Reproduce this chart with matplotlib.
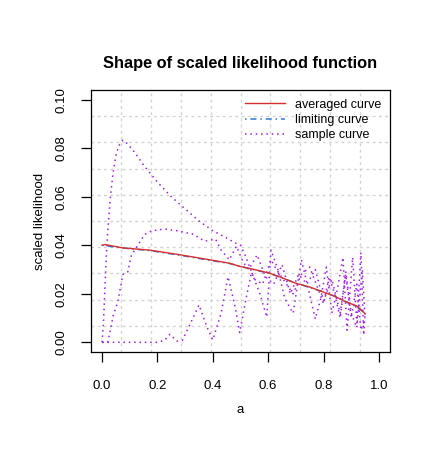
import matplotlib
matplotlib.use("Agg")
import matplotlib.pyplot as plt
import numpy as np
from matplotlib.lines import Line2D

plt.rcParams['font.family'] = ['Liberation Sans', 'DejaVu Sans']

# ---- data ----
avg_x = [0.0, 0.01, 0.075, 0.172, 0.28, 0.389, 0.46, 0.497, 0.55, 0.605, 0.65, 0.70, 0.75, 0.797, 0.84, 0.88, 0.92, 0.95]
avg_y = [0.0400, 0.0403, 0.0389, 0.0380, 0.0361, 0.0340, 0.0326, 0.0313, 0.0300, 0.0285, 0.0266, 0.0243, 0.0228, 0.0208, 0.0190, 0.0167, 0.0150, 0.0118]

lim_x = [0.0, 0.05, 0.1, 0.172, 0.28, 0.389, 0.46, 0.5, 0.55, 0.605, 0.65, 0.70, 0.75, 0.80, 0.84, 0.88, 0.92, 0.95]
lim_y = [0.0400, 0.0392, 0.0386, 0.0378, 0.0359, 0.0338, 0.0325, 0.0313, 0.0299, 0.0284, 0.0265, 0.0244, 0.0226, 0.0207, 0.0190, 0.0168, 0.0145, 0.0120]

s1_x = [0.0, 0.005, 0.01, 0.015, 0.02, 0.03, 0.04, 0.05, 0.06, 0.075, 0.09, 0.12, 0.15, 0.2, 0.25, 0.3, 0.35, 0.4, 0.45, 0.48, 0.5,
        0.52, 0.55, 0.58, 0.61, 0.63, 0.66, 0.69, 0.72, 0.75, 0.78, 0.8, 0.82, 0.84, 0.86, 0.88, 0.9, 0.92, 0.94, 0.95]
s1_y = [0.0, 0.008, 0.022, 0.035, 0.045, 0.060, 0.070, 0.077, 0.081, 0.0833, 0.082, 0.078, 0.073, 0.066, 0.060, 0.055, 0.050, 0.046, 0.043, 0.041, 0.040,
        0.035, 0.026, 0.024, 0.034, 0.030, 0.025, 0.020, 0.028, 0.031, 0.022, 0.016, 0.027, 0.020, 0.010, 0.029, 0.012, 0.006, 0.030, 0.010]

s2_x = [0.0, 0.02, 0.03, 0.04, 0.057, 0.075, 0.093, 0.106, 0.129, 0.154, 0.18, 0.226, 0.27, 0.33, 0.37, 0.41, 0.43, 0.46, 0.485,
        0.51, 0.53, 0.56, 0.59, 0.62, 0.65, 0.68, 0.71, 0.74, 0.77, 0.8, 0.83, 0.86, 0.88, 0.9, 0.92, 0.935, 0.95]
s2_y = [0.0, 0.0, 0.005, 0.011, 0.0167, 0.028, 0.029, 0.036, 0.040, 0.0445, 0.046, 0.0467, 0.046, 0.0445, 0.0417, 0.0425, 0.038, 0.034, 0.0396,
        0.033, 0.030, 0.036, 0.027, 0.024, 0.032, 0.020, 0.028, 0.024, 0.030, 0.017, 0.026, 0.012, 0.028, 0.010, 0.024, 0.005, 0.010]

s3_x = [0.0, 0.02, 0.1, 0.2, 0.225, 0.245, 0.27, 0.29, 0.32, 0.35, 0.38, 0.40, 0.43, 0.455, 0.48, 0.497, 0.52, 0.54, 0.57, 0.595,
        0.61, 0.635, 0.66, 0.69, 0.72, 0.745, 0.77, 0.79, 0.81, 0.83, 0.85, 0.87, 0.885, 0.905, 0.92, 0.935, 0.945, 0.95]
s3_y = [0.0, 0.0, 0.0, 0.0, 0.0008, 0.0033, 0.0005, 0.0008, 0.008, 0.0154, 0.006, 0.001, 0.012, 0.027, 0.015, 0.004, 0.018, 0.029, 0.020, 0.0104,
        0.038, 0.030, 0.018, 0.012, 0.034, 0.022, 0.0096, 0.018, 0.031, 0.012, 0.022, 0.035, 0.005, 0.035, 0.008, 0.037, 0.003, 0.012]

x_ticks = [0.0, 0.2, 0.4, 0.6, 0.8, 1.0]
x_ticklabels = ["0.0", "0.2", "0.4", "0.6", "0.8", "1.0"]
y_ticks = [0.00, 0.02, 0.04, 0.06, 0.08, 0.10]
y_ticklabels = ["0.00", "0.02", "0.04", "0.06", "0.08", "0.10"]

title = "Shape of scaled likelihood function"
legend_labels = ["averaged curve", "limiting curve", "sample curve"]

# ---- figure ----
fig = plt.figure(figsize=(4.37, 4.63), dpi=100)
ax = fig.add_axes([91/437, 1-352/463, 299/437, 262/463])

xlim = (-0.04, 1.04)
ylim = (-0.004, 0.104)
ax.set_xlim(*xlim)
ax.set_ylim(*ylim)

# grid (R grid(10): equally spaced over plot region)
for k in range(1, 10):
    ax.axvline(xlim[0] + k*(xlim[1]-xlim[0])/10, color='#D3D3D3', lw=1.0, ls=(0, (2, 2.5)), zorder=0)
    ax.axhline(ylim[0] + k*(ylim[1]-ylim[0])/10, color='#D3D3D3', lw=1.0, ls=(0, (2, 2.5)), zorder=0)

purple = '#A020F0'
for sx, sy in [(s1_x, s1_y), (s2_x, s2_y), (s3_x, s3_y)]:
    ax.plot(sx, sy, color=purple, lw=1.1, ls=(0, (1, 2.5)), zorder=2)

l_lim, = ax.plot(lim_x, lim_y, color='#2C7BD6', lw=1.1, ls=(0, (1, 2.5, 4, 2.5)), zorder=3)
l_avg, = ax.plot(avg_x, avg_y, color='#D62F2F', lw=1.0, zorder=4)

h_s = Line2D([], [], color=purple, lw=1.1, ls=(0, (1, 2.5)))
leg = ax.legend([l_avg, l_lim, h_s], legend_labels, loc='upper right', frameon=False,
                fontsize=9, handlelength=3.2, handletextpad=0.8, labelspacing=0.25,
                bbox_to_anchor=(1.0, 1.0), borderaxespad=0.3)

ax.set_xticks(x_ticks)
ax.set_xticklabels(x_ticklabels)
ax.set_yticks(y_ticks)
ax.set_yticklabels(y_ticklabels, rotation=90, va='center')
ax.tick_params(axis='x', direction='out', length=7, width=0.9, labelsize=9.5, pad=13, colors='black')
ax.tick_params(axis='y', direction='out', length=7, width=0.9, labelsize=9.5, pad=10, colors='black')
for s in ax.spines.values():
    s.set_linewidth(0.9)

ax.set_xlabel("a", fontsize=9.5, labelpad=9)
ax.set_ylabel("scaled likelihood", fontsize=9.5, labelpad=7)
ax.set_title(title, fontsize=11.8, fontweight='bold', pad=16)

fig.savefig("out.png", dpi=100)
